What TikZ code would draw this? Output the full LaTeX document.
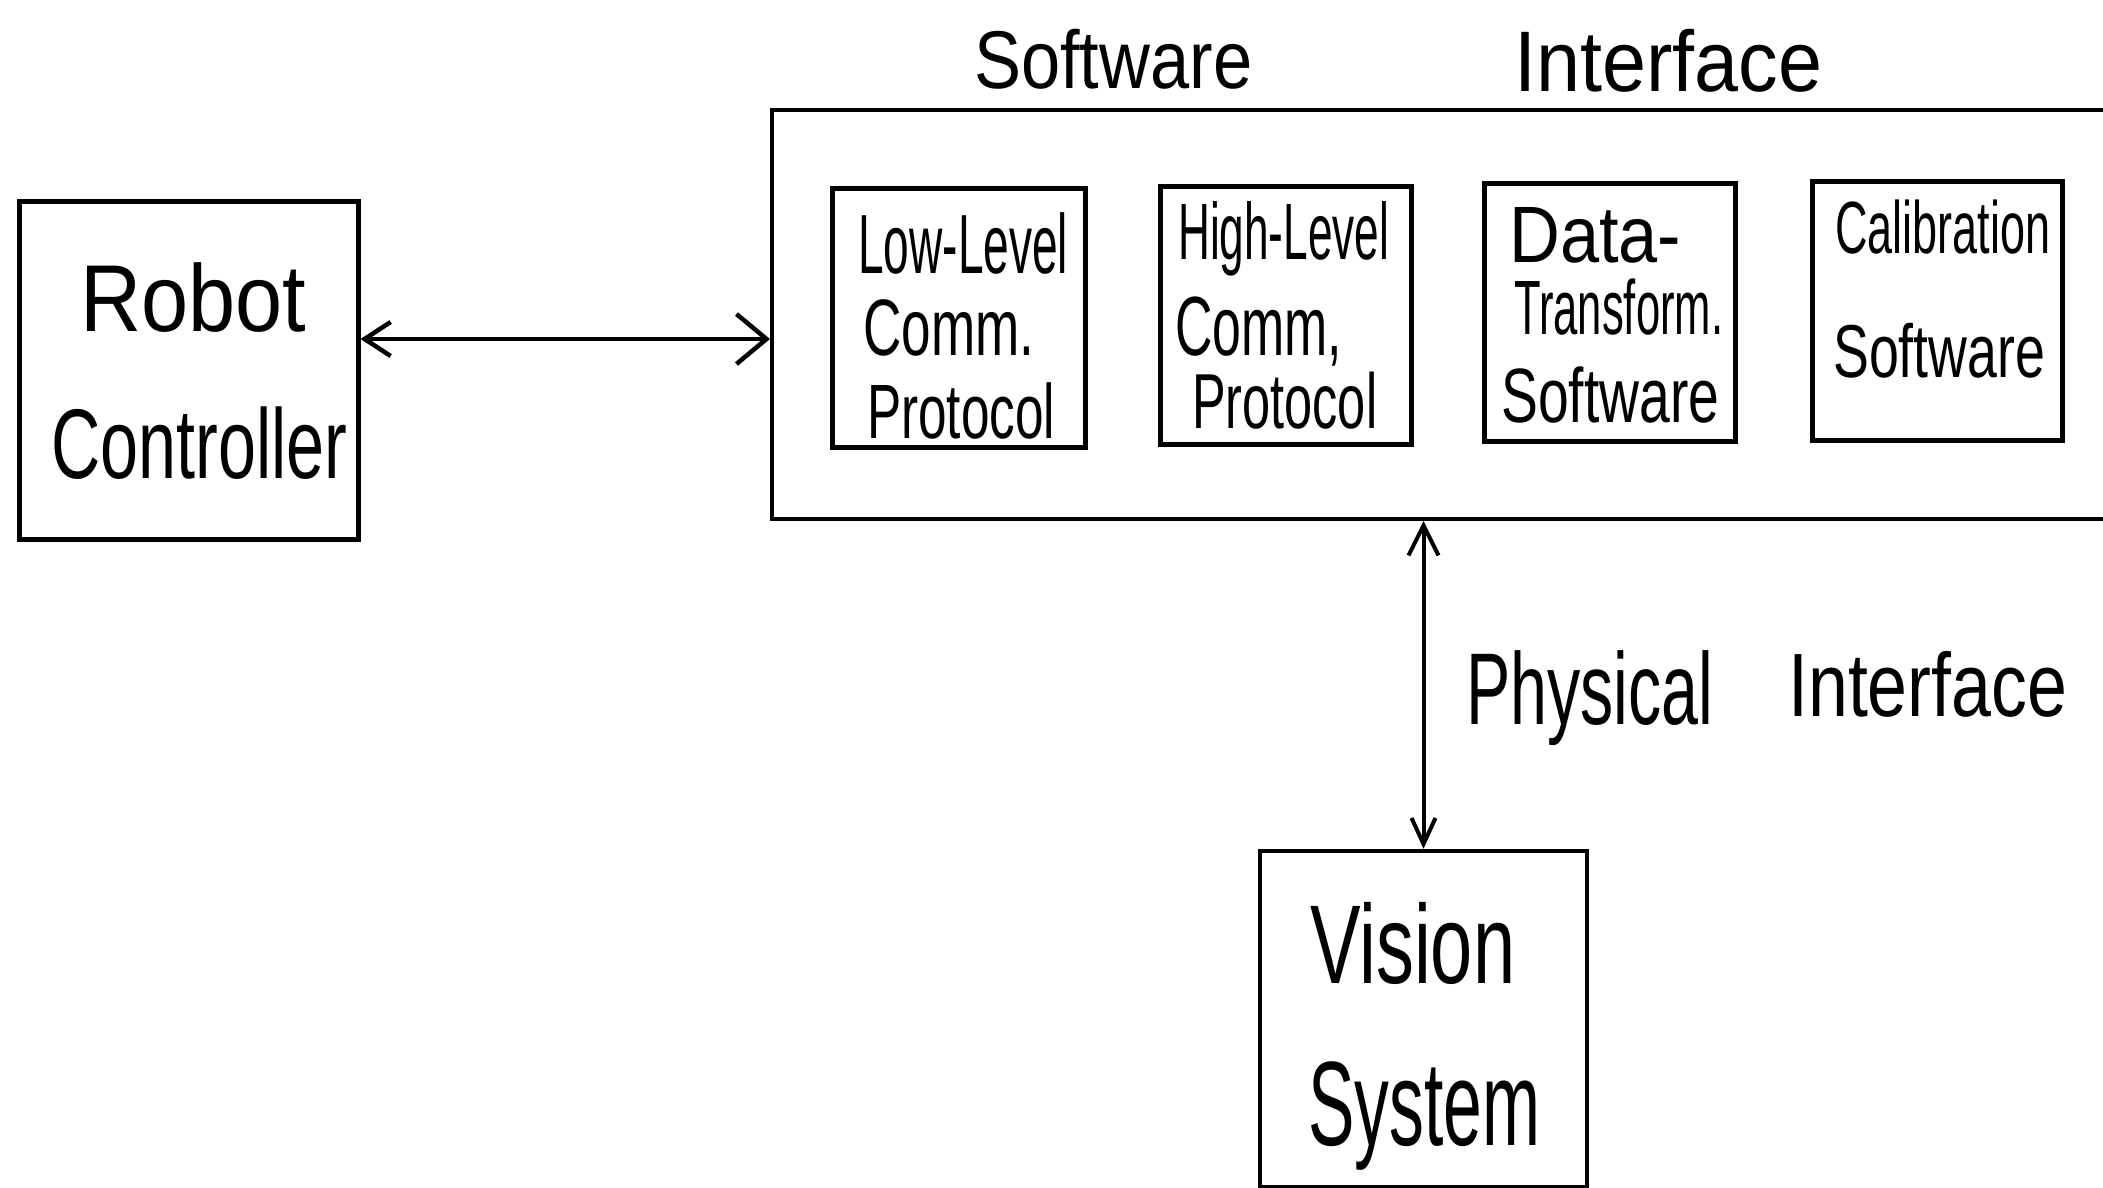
\documentclass[tikz,border=0pt]{standalone}
\usepackage{fontspec}
\setmainfont{Liberation Sans}
\usetikzlibrary{arrows.meta}
\newcommand\hw[3]{\resizebox{#2pt}{\height}{\fontsize{#1pt}{#1pt}\selectfont #3}}
\begin{document}
\begin{tikzpicture}[x=1pt,y=-1pt,
  box/.style={draw,line width=5pt,inner sep=0pt},
  lbl/.style={anchor=base west,inner sep=0pt},
  arr/.style={line width=4.5pt}]
\useasboundingbox (0,0) rectangle (2103,1187);
\clip (0,0) rectangle (2103,1187);
\fill[white] (0,0) rectangle (2103,1187);
% boxes
\node[box,minimum width=339pt,minimum height=338pt] (robot) at (188.5,370) {};
\node[box,line width=4pt,minimum width=1368pt,minimum height=409pt] (sw) at (1456,314.5) {};
\node[box,minimum width=253pt,minimum height=259pt] (ll) at (958.5,317.5) {};
\node[box,minimum width=251pt,minimum height=258pt] (hl) at (1285.5,315) {};
\node[box,minimum width=251pt,minimum height=258pt] (dt) at (1609.5,312) {};
\node[box,minimum width=250pt,minimum height=259pt] (cal) at (1937,310.5) {};
\node[box,line width=4.5pt,minimum width=327pt,minimum height=336pt] (vis) at (1423.5,1019) {};
% title
\node[lbl] (tsw) at (974,88) {\hw{82}{278}{Software}};
\node[lbl] (tif) at (1514,91) {\hw{86}{308}{Interface}};
% robot controller
\node[lbl] (rob1) at (80,331) {\hw{95}{226}{Robot}};
\node[lbl] (rob2) at (51,478) {\hw{99}{296}{Controller}};
% low-level
\node[lbl] (ll1) at (858,273) {\hw{84}{210}{Low-Level}};
\node[lbl] (ll2) at (863,355) {\hw{80}{171}{Comm.}};
\node[lbl] (ll3) at (867,438) {\hw{77}{188}{Protocol}};
% high-level
\node[lbl] (hl1) at (1178,259) {\hw{80}{211}{High-Level}};
\node[lbl] (hl2) at (1175,355) {\hw{84}{167}{Comm,}};
\node[lbl] (hl3) at (1192,428) {\hw{78}{185}{Protocol}};
% data transform
\node[lbl] (dt1) at (1509,262) {\hw{80}{172}{Data-}};
\node[lbl] (dt2) at (1514,334) {\hw{77}{209}{Transform.}};
\node[lbl] (dt3) at (1501,422) {\hw{77}{218}{Software}};
% calibration
\node[lbl] (cal1) at (1835,253) {\hw{74}{215}{Calibration}};
\node[lbl] (cal2) at (1833,377) {\hw{75}{212}{Software}};
% physical interface
\node[lbl] (ph1) at (1466,724) {\hw{102}{247}{Physical}};
\node[lbl] (ph2) at (1788,716) {\hw{90}{279}{Interface}};
% vision system
\node[lbl] (vis1) at (1310,983) {\hw{112}{205}{Vision}};
\node[lbl] (vis2) at (1308,1145) {\hw{120}{232}{System}};
% connectors
\draw[arr,{Straight Barb[length=26pt,width=34pt]}-{Straight Barb[length=30pt,width=50pt]}]
  (robot.east |- 0,339) -- (sw.west |- 0,339);
\draw[arr,line width=4pt,{Straight Barb[length=30pt,width=30pt]}-{Straight Barb[length=26pt,width=24pt]}]
  (vis.north |- sw.south) -- (vis.north);
\end{tikzpicture}
\end{document}
